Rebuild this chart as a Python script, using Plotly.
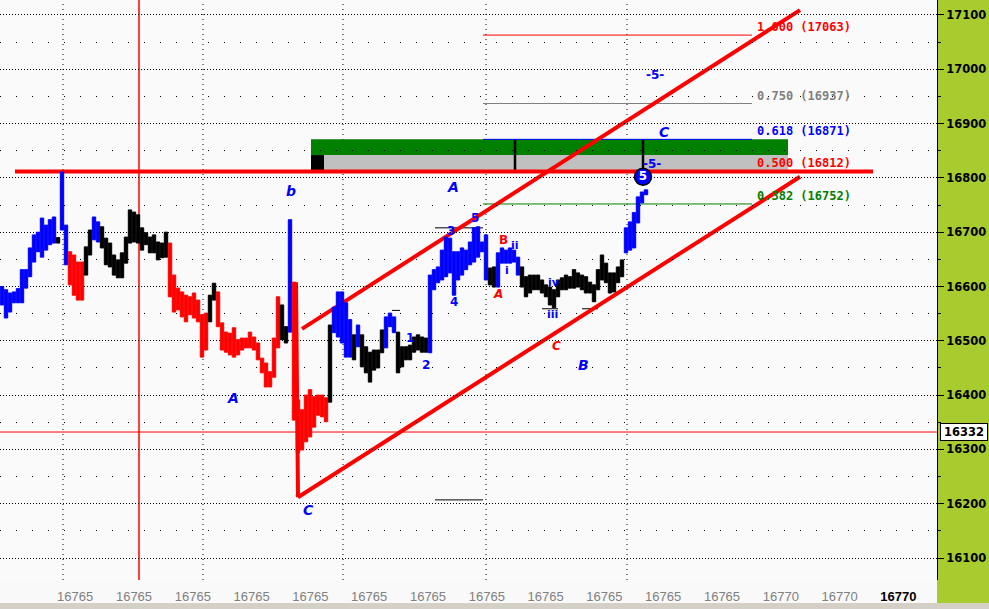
import plotly.graph_objects as go

# ---------------- price bars (one bar per time step) ----------------
bar_hi = [16600, 16594, 16588, 16590, 16596, 16631, 16631, 16671, 16695, 16700,
          16726, 16713, 16723, 16728, 16690, 16811, 16713, 16664, 16658, 16645,
          16645, 16673, 16704, 16728, 16719, 16710, 16689, 16680, 16658, 16649,
          16662, 16691, 16741, 16737, 16732, 16708, 16699, 16691, 16695, 16682,
          16680, 16700, 16680, 16621, 16597, 16590, 16584, 16581, 16588, 16575,
          16548, 16551, 16584, 16606, 16590, 16533, 16516, 16514, 16524, 16502,
          16505, 16505, 16516, 16507, 16496, 16468, 16459, 16443, 16505, 16581,
          16566, 16526, 16723, 16608, 16391, 16373, 16400, 16410, 16397, 16400,
          16400, 16395, 16529, 16562, 16590, 16590, 16570, 16539, 16511, 16529,
          16511, 16489, 16479, 16483, 16483, 16520, 16544, 16551, 16544, 16516,
          16489, 16489, 16492, 16507, 16511, 16507, 16505, 16621, 16631, 16636,
          16667, 16691, 16689, 16664, 16664, 16671, 16667, 16682, 16708, 16710,
          16682, 16695, 16634, 16636, 16662, 16671, 16667, 16671, 16667, 16654,
          16636, 16618, 16621, 16621, 16621, 16612, 16603, 16599, 16594, 16612,
          16616, 16621, 16618, 16631, 16625, 16621, 16618, 16608, 16603, 16631,
          16658, 16643, 16625, 16625, 16636, 16649, 16708, 16719, 16736, 16765,
          16774, 16778]
bar_lo = [16566, 16542, 16553, 16570, 16570, 16570, 16597, 16618, 16645, 16664,
          16654, 16667, 16677, 16680, 16680, 16704, 16640, 16603, 16584, 16575,
          16575, 16621, 16658, 16686, 16682, 16671, 16640, 16636, 16621, 16616,
          16616, 16643, 16680, 16682, 16680, 16667, 16677, 16662, 16662, 16649,
          16653, 16654, 16581, 16553, 16557, 16544, 16535, 16548, 16542, 16535,
          16470, 16483, 16535, 16575, 16526, 16483, 16479, 16474, 16470, 16474,
          16483, 16487, 16487, 16483, 16465, 16441, 16415, 16415, 16433, 16487,
          16502, 16496, 16516, 16354, 16294, 16299, 16314, 16323, 16341, 16363,
          16360, 16351, 16387, 16515, 16507, 16496, 16470, 16470, 16465, 16489,
          16452, 16441, 16424, 16446, 16450, 16478, 16487, 16526, 16515, 16441,
          16452, 16465, 16465, 16479, 16483, 16479, 16479, 16478, 16594, 16607,
          16612, 16618, 16625, 16584, 16612, 16621, 16631, 16640, 16645, 16654,
          16664, 16612, 16603, 16599, 16599, 16643, 16643, 16643, 16645, 16621,
          16599, 16581, 16588, 16594, 16594, 16588, 16581, 16566, 16561, 16581,
          16594, 16594, 16597, 16597, 16599, 16594, 16588, 16588, 16572, 16594,
          16612, 16607, 16588, 16590, 16607, 16618, 16662, 16667, 16671, 16717,
          16754, 16769]
# trend colour runs: B = up (blue), R = down (red), K = neutral (black)
col_runs = [("B", 14), ("K", 1), ("B", 2), ("R", 4), ("K", 2), ("B", 2), ("K", 17),
            ("R", 10), ("K", 2), ("R", 16), ("K", 2), ("B", 1), ("R", 9), ("K", 1),
            ("B", 5), ("K", 1), ("B", 1), ("K", 6), ("B", 3), ("K", 8), ("B", 15),
            ("K", 2), ("B", 6), ("K", 26), ("B", 6)]
COLORS = {"B": "#0000FF", "R": "#FF0000", "K": "#000000"}

# ---------------- axis labels ----------------
x_tick_vals = [18.3, 33.0, 47.7, 62.4, 77.1, 91.8, 106.5, 121.2, 135.9, 150.6,
               165.3, 180.0, 194.7, 209.4, 224.1]
x_tick_labels = ["16765"] * 12 + ["16770"] * 3
x_grid_vals = [15.25, 50.25, 85.25, 121.0, 156.25]
red_vline_x = 34.25

# ---------------- fibonacci projection ----------------
fib_ratios = ["1.000", "0.750", "0.618", "0.500", "0.382"]
fib_prices = [17063, 16937, 16871, 16812, 16752]
fib_colors = ["#FF0000", "#808080", "#0000FF", "#FF0000", "#008000"]
fib_x = [120.25, 187.5]
fib_label_x = 188.25
half_line_x = [3.25, 217.75]

zone_x = [77.25, 196.5]
zone_green = [16842, 16871]
zone_gray = [16812, 16842]
zone_ticks_x = [128.25, 160.25]

current_price = 16332

# channel and wave-C drop
chan_upper = [(75.0, 16522), (199.5, 17109)]
chan_lower = [(74.0, 16212), (199.5, 16802)]
c_leg = [(73.5, 16608), (74.0, 16212)]

short_lines = [((108.25, 120.25), 16708), ((108.25, 120.25), 16207),
               ((135.0, 139.0), 16559), ((145.0, 149.0), 16559),
               ((97.5, 99.5), 16556)]

# wave labels: (text, x, price, colour, size, italic)
wave_labels = [
    ("b", 72.25, 16776, "#0000FF", 14, True),
    ("A", 57.75, 16395, "#0000FF", 14, True),
    ("C", 76.5, 16188, "#0000FF", 14, True),
    ("A", 112.75, 16783, "#0000FF", 14, True),
    ("B", 145.25, 16456, "#0000FF", 14, True),
    ("C", 165.5, 16885, "#0000FF", 14, True),
    ("C", 138.5, 16491, "#FF0000", 12, True),
    ("A", 124.0, 16586, "#FF0000", 12, True),
    ("B", 125.25, 16686, "#FF0000", 12, False),
    ("ii", 128.25, 16676, "#0000FF", 11, False),
    ("i", 126.25, 16629, "#0000FF", 11, False),
    ("iv", 138.0, 16608, "#0000FF", 11, False),
    ("iii", 137.5, 16548, "#0000FF", 11, False),
    ("1", 102.0, 16505, "#0000FF", 12, False),
    ("2", 106.0, 16456, "#0000FF", 12, False),
    ("3", 112.25, 16702, "#0000FF", 12, False),
    ("4", 113.0, 16572, "#0000FF", 12, False),
    ("5", 118.25, 16726, "#0000FF", 12, False),
    ("-5-", 163.25, 16990, "#0000FF", 12, False),
    ("-5-", 162.5, 16826, "#0000FF", 12, False),
]
circle5 = (160.25, 16802)

# ---------------- build figure ----------------
bar_col = [c for c, n in col_runs for _ in range(n)]
bar_x = list(range(len(bar_hi)))
bar_rgb = [COLORS[c] for c in bar_col]

fig = go.Figure()
fig.add_trace(go.Bar(
    x=bar_x, y=[h - l for h, l in zip(bar_hi, bar_lo)], base=bar_lo,
    marker=dict(color=bar_rgb, line=dict(width=1, color=bar_rgb)),
    width=0.85, showlegend=False, hoverinfo="skip"))

fig.add_trace(go.Scatter(
    x=[circle5[0]], y=[circle5[1]], mode="markers+text", text=["<b>5</b>"],
    textposition="middle center",
    textfont=dict(color="white", size=12, family="DejaVu Sans"),
    marker=dict(size=17, color="#0000FF", line=dict(color="black", width=1.5)),
    showlegend=False, hoverinfo="skip"))

shapes = []
# right axis panel and bottom bar
shapes.append(dict(type="rect", xref="paper", yref="paper", x0=1.0, x1=989 / 937,
                   y0=-23 / 580, y1=1.0, fillcolor="#A8CB30", line=dict(width=0), layer="below"))
shapes.append(dict(type="rect", xref="paper", yref="paper", x0=0, x1=989 / 937,
                   y0=-29 / 580, y1=-23 / 580, fillcolor="#D4D0C8", line=dict(width=0), layer="below"))
# vertical dotted grid
for gx in x_grid_vals:
    shapes.append(dict(type="line", xref="x", yref="y domain", x0=gx, x1=gx, y0=0, y1=1,
                       line=dict(color="black", width=1, dash="1px,4px"), layer="below"))
shapes.append(dict(type="line", xref="x", yref="y domain", x0=red_vline_x, x1=red_vline_x,
                   y0=0, y1=1, line=dict(color="#FF0000", width=1.5), layer="below"))
# current price line
shapes.append(dict(type="line", xref="x domain", yref="y", x0=0, x1=1,
                   y0=current_price, y1=current_price, line=dict(color="#FF0000", width=1), layer="below"))
# target zone
shapes.append(dict(type="rect", x0=zone_x[0], x1=zone_x[1], y0=zone_green[0], y1=zone_green[1],
                   fillcolor="#008000", line=dict(width=0), layer="below"))
shapes.append(dict(type="rect", x0=zone_x[0], x1=zone_x[1], y0=zone_gray[0], y1=zone_gray[1],
                   fillcolor="#C0C0C0", line=dict(width=0), layer="below"))
shapes.append(dict(type="rect", x0=zone_x[0], x1=zone_x[0] + 3.25, y0=zone_gray[0], y1=zone_gray[1],
                   fillcolor="#000000", line=dict(width=0), layer="below"))
for zx in zone_ticks_x:
    shapes.append(dict(type="line", x0=zx, x1=zx, y0=zone_gray[0], y1=zone_green[1],
                       line=dict(color="black", width=2.5), layer="below"))
# fib lines
for r, p, c in zip(fib_ratios, fib_prices, fib_colors):
    if r == "0.500":
        shapes.append(dict(type="line", x0=half_line_x[0], x1=half_line_x[1], y0=p, y1=p,
                           line=dict(color=c, width=4), layer="below"))
    else:
        shapes.append(dict(type="line", x0=fib_x[0], x1=fib_x[1], y0=p, y1=p,
                           line=dict(color=c, width=1), layer="below"))
# small black markers
for (sx0, sx1), sy in short_lines:
    shapes.append(dict(type="line", x0=sx0, x1=sx1, y0=sy, y1=sy,
                       line=dict(color="black", width=1), layer="below"))
# channel
for seg in (chan_upper, chan_lower, c_leg):
    shapes.append(dict(type="line", x0=seg[0][0], y0=seg[0][1], x1=seg[1][0], y1=seg[1][1],
                       line=dict(color="#FF0000", width=4), layer="below"))

annotations = []
for r, p, c in zip(fib_ratios, fib_prices, fib_colors):
    annotations.append(dict(x=fib_label_x, y=p, text=f"<b>{r} ({p})</b>", showarrow=False,
                            xanchor="left", yanchor="middle", yshift=8,
                            font=dict(family="DejaVu Sans Mono", size=12, color=c)))
for t, x, y, c, s, it in wave_labels:
    annotations.append(dict(x=x, y=y, text=f"<b>{t}</b>", showarrow=False,
                            xanchor="center", yanchor="middle",
                            font=dict(family="DejaVu Sans", size=s, color=c,
                                      style="italic" if it else "normal")))
annotations.append(dict(xref="paper", x=988 / 937, y=current_price, text="<b>16332</b>",
                        showarrow=False, xanchor="right", yanchor="middle",
                        bgcolor="white", bordercolor="black", borderwidth=1, width=44,
                        font=dict(family="DejaVu Sans", size=11.5, color="black")))

tick_text = [t if i < len(x_tick_labels) - 1 else f"<span style='color:black'><b>{t}</b></span>"
             for i, t in enumerate(x_tick_labels)]

fig.update_layout(
    width=989, height=609,
    margin=dict(l=0, r=52, t=0, b=29, autoexpand=False),
    paper_bgcolor="#F9F9F9", plot_bgcolor="#FAFAFA",
    shapes=shapes, annotations=annotations, bargap=0,
    xaxis=dict(range=[-0.5, 233.75], showgrid=False, zeroline=False, showline=False,
               tickmode="array", tickvals=x_tick_vals, ticktext=tick_text,
               ticks="outside", ticklen=4, tickcolor="rgba(0,0,0,0)",
               tickfont=dict(family="Liberation Sans", size=13, color="#808080")),
    yaxis=dict(range=[16059.5, 17127.6], side="right", tick0=0, dtick=100, tickformat="d",
               showgrid=True, gridcolor="black", griddash="1px,2px", gridwidth=1,
               zeroline=False, showline=True, linecolor="black", linewidth=1,
               ticks="outside", ticklen=6, tickcolor="black",
               tickfont=dict(family="DejaVu Sans", size=11.5, color="black", weight="bold"),
               minor=dict(dtick=50, tick0=0, showgrid=True, gridcolor="black",
                          griddash="1px,15px", ticks="outside", ticklen=3, tickcolor="black")),
)

fig.write_html("out.html", config={"displayModeBar": False, "staticPlot": True},
               post_script="document.body.style.margin='0';document.body.style.overflow='hidden';")
